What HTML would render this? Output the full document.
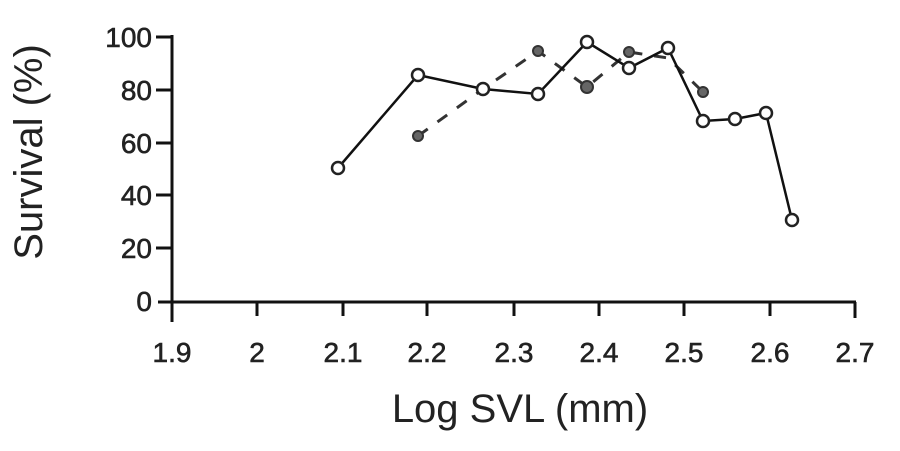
<!DOCTYPE html>
<html><head><style>
html,body{margin:0;padding:0;background:#fff;}
</style></head><body>
<svg width="900" height="446" viewBox="0 0 900 446" xmlns="http://www.w3.org/2000/svg" font-family="Liberation Sans, sans-serif" fill="#222">
<g stroke="#111" stroke-width="3" fill="none">
<line x1="172" y1="35" x2="172" y2="322"/>
<line x1="158" y1="302" x2="856" y2="302"/>
<line x1="156" y1="37" x2="172" y2="37"/>
<line x1="156" y1="90" x2="172" y2="90"/>
<line x1="156" y1="143" x2="172" y2="143"/>
<line x1="156" y1="195" x2="172" y2="195"/>
<line x1="156" y1="248" x2="172" y2="248"/>
<line x1="257" y1="302" x2="257" y2="316"/>
<line x1="343" y1="302" x2="343" y2="316"/>
<line x1="427" y1="302" x2="427" y2="316"/>
<line x1="514" y1="302" x2="514" y2="316"/>
<line x1="599" y1="302" x2="599" y2="316"/>
<line x1="684" y1="302" x2="684" y2="316"/>
<line x1="770" y1="302" x2="770" y2="316"/>
<line x1="855" y1="302" x2="855" y2="318"/>
</g>
<g font-size="28" text-anchor="end" stroke="#222" stroke-width="0.6">
<text x="152" y="47">100</text>
<text x="152" y="100">80</text>
<text x="152" y="153">60</text>
<text x="152" y="205">40</text>
<text x="152" y="258">20</text>
<text x="152" y="311">0</text>
</g>
<g font-size="28" text-anchor="middle" stroke="#222" stroke-width="0.6">
<text x="172" y="362">1.9</text>
<text x="257" y="362">2</text>
<text x="343" y="362">2.1</text>
<text x="427" y="362">2.2</text>
<text x="514" y="362">2.3</text>
<text x="599" y="362">2.4</text>
<text x="684" y="362">2.5</text>
<text x="770" y="362">2.6</text>
<text x="855" y="362">2.7</text>
</g>
<text x="520" y="422" font-size="40" text-anchor="middle">Log SVL (mm)</text>
<text transform="translate(42,152) rotate(-90)" font-size="40" text-anchor="middle">Survival (%)</text>
<polyline points="418,136 483,89 538,51 587,87 629,52 668,58 703,92" fill="none" stroke="#333" stroke-width="3" stroke-dasharray="12,12"/>
<g fill="#666" stroke="#333" stroke-width="2">
<circle cx="418" cy="136" r="5"/><circle cx="538" cy="51" r="5"/><circle cx="587" cy="87" r="6"/><circle cx="629" cy="52" r="5"/><circle cx="703" cy="92" r="5"/>
</g>
<polyline points="338,168 418,75 483,89 538,94 587,42 629,68 668,48 703,121 735,119 766,113 792,220" fill="none" stroke="#111" stroke-width="2.5"/>
<g fill="#fff" stroke="#222" stroke-width="2.5">
<circle cx="338" cy="168" r="6"/><circle cx="418" cy="75" r="6"/><circle cx="483" cy="89" r="6"/><circle cx="538" cy="94" r="6"/><circle cx="587" cy="42" r="6"/><circle cx="629" cy="68" r="6"/><circle cx="668" cy="48" r="6"/><circle cx="703" cy="121" r="6"/><circle cx="735" cy="119" r="6"/><circle cx="766" cy="113" r="6"/><circle cx="792" cy="220" r="6"/>
</g>
</svg>
</body></html>
